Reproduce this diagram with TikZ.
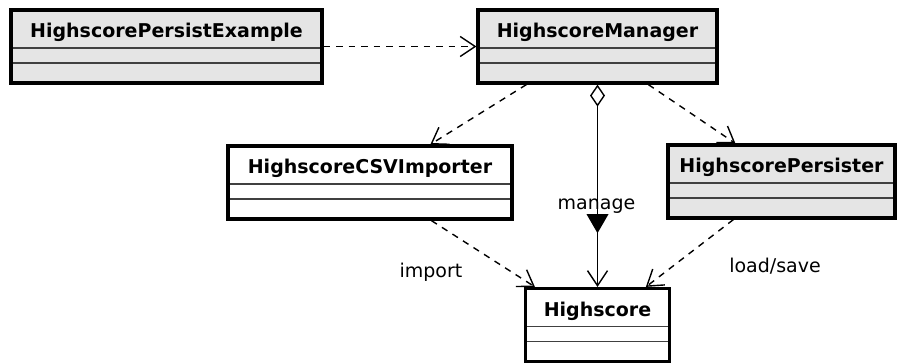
\documentclass[tikz,border=0pt]{standalone}
\usepackage{fontspec}
\setmainfont{DejaVu Sans}
\usepackage{tikz}
\usetikzlibrary{arrows.meta,shapes.geometric}
\definecolor{classgray}{rgb}{0.9,0.9,0.9}
\pgfdeclarelayer{edgelayer}
\pgfdeclarelayer{nodelayer}
\pgfsetlayers{edgelayer,nodelayer,main}
\tikzstyle{umlclass}=[rectangle, draw=black, fill=white, line width=3.2pt, inner sep=0pt, minimum height=73pt, text height=28pt, text depth=45pt, font=\fontsize{19}{22}\selectfont\bfseries, path picture={\draw [line width=1.2pt, draw=black!75] ([yshift=-38pt]path picture bounding box.north west) -- ([yshift=-38pt]path picture bounding box.north east) ([yshift=-53pt]path picture bounding box.north west) -- ([yshift=-53pt]path picture bounding box.north east);}]
\tikzstyle{edgelabel}=[anchor=base, inner sep=0pt, font=\fontsize{19}{22}\selectfont]
\tikzstyle{dependency}=[draw=black, line width=1.4pt, dash pattern=on 6.5pt off 6pt, -{Straight Barb[length=15pt,width=20pt]}]
\tikzstyle{aggregation}=[draw=black, line width=1.4pt, {Diamond[open,length=22pt,width=15pt]}-{Straight Barb[length=15pt,width=20pt]}]
\tikzstyle{direction}=[regular polygon, regular polygon sides=3, shape border rotate=180, fill=black, inner sep=0pt, minimum size=25.4pt]

\begin{document}
\begin{tikzpicture}[x=1pt, y=-1pt]
            \useasboundingbox (0, 0) rectangle (897, 363);
            \begin{pgfonlayer}{nodelayer}
                \node [style=umlclass, fill=classgray, minimum width=311pt] (example) at (166.5, 46.5) {HighscorePersistExample};
                \node [style=umlclass, fill=classgray, minimum width=239pt] (manager) at (597.5, 46.5) {HighscoreManager};
                \node [style=umlclass, minimum width=284pt] (importer) at (370, 182.5) {HighscoreCSVImporter};
                \node [style=umlclass, fill=classgray, minimum width=227pt] (persister) at (781.5, 181.5) {HighscorePersister};
                \node [style=umlclass, minimum width=144pt] (highscore) at (597.5, 325) {Highscore};

                \node [style=edgelabel] (manage) at (596.5, 210) {manage};
                \node [style=direction] (managedir) at (597.5, 220.5) {};
                \node [style=edgelabel] (import) at (431, 278) {import};
                \node [style=edgelabel] (loadsave) at (775, 273) {load/save};
            \end{pgfonlayer}
            \begin{pgfonlayer}{edgelayer}
                \draw [style=dependency] (example.east) to (manager.west);
                \draw [style=dependency] ([xshift=50pt]manager.south west) to ([xshift=204pt]importer.north west);
                \draw [style=dependency] ([xshift=172pt]manager.south west) to ([xshift=69pt]persister.north west);
                \draw [style=aggregation] (manager.south) to (highscore.north);
                \draw [style=dependency] ([xshift=205pt]importer.south west) to ([xshift=11pt]highscore.north west);
                \draw [style=dependency] ([xshift=67pt]persister.south west) to ([xshift=122pt]highscore.north west);
            \end{pgfonlayer}
        \end{tikzpicture}
\end{document}
